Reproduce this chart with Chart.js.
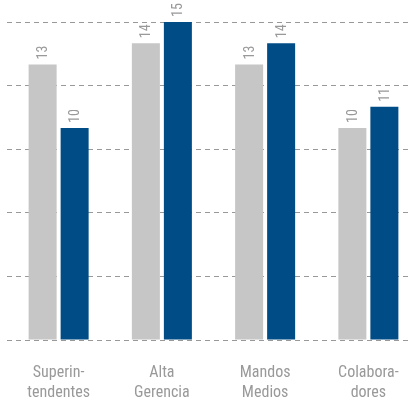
<!DOCTYPE html>
<html>
<head>
<meta charset="utf-8">
<script src="https://cdn.jsdelivr.net/npm/chart.js@4/dist/chart.umd.min.js"></script>
<style>
  html, body { margin: 0; padding: 0; background: #fff; overflow: hidden; }
  #wrap { position: relative; width: 420px; height: 399px; }
</style>
</head>
<body>
<div id="wrap"><canvas id="myChart"></canvas></div>
<script>
var categories = [["Superin-", "tendentes"], ["Alta", "Gerencia"], ["Mandos", "Medios"], ["Colabora-", "dores"]];
var seriesGray = [13, 14, 13, 10];
var seriesBlue = [10, 15, 14, 11];

var fontFamily = "'Liberation Sans Narrow', 'Roboto Condensed', 'DejaVu Sans Condensed', sans-serif";

// rotated value labels above each bar
var valueLabels = {
    id: 'valueLabels',
    afterDatasetsDraw: function(chart) {
        var ctx = chart.ctx;
        ctx.save();
        ctx.font = '14px ' + fontFamily;
        ctx.fillStyle = '#999999';
        ctx.textAlign = 'left';
        ctx.textBaseline = 'middle';
        chart.data.datasets.forEach(function(ds, i) {
            chart.getDatasetMeta(i).data.forEach(function(bar, j) {
                ctx.save();
                ctx.translate(bar.x, bar.y - 5);
                ctx.rotate(-Math.PI / 2);
                ctx.fillText(String(ds.data[j]), 0, 1);
                ctx.restore();
            });
        });
        ctx.restore();
    }
};

var ctx = document.getElementById('myChart').getContext('2d');
var myChart = new Chart(ctx, {
    type: 'bar',
    data: {
        labels: categories,
        datasets: [{
            data: seriesGray,
            backgroundColor: '#c6c6c6',
            barPercentage: 0.875,
            categoryPercentage: 0.62
        }, {
            data: seriesBlue,
            backgroundColor: '#004c86',
            barPercentage: 0.875,
            categoryPercentage: 0.62
        }]
    },
    options: {
        responsive: true,
        maintainAspectRatio: false,
        animation: false,
        layout: { padding: { top: 22, left: 7, right: 0, bottom: 0 } },
        plugins: {
            legend: { display: false },
            tooltip: { enabled: false }
        },
        scales: {
            x: {
                grid: { display: false },
                border: { display: false },
                ticks: {
                    color: '#999999',
                    padding: 15,
                    font: { family: fontFamily, size: 16, lineHeight: 1.25 },
                    maxRotation: 0
                },
                afterFit: function(scale) { scale.height = 59; }
            },
            y: {
                min: 0,
                max: 15,
                ticks: { display: false, stepSize: 3 },
                border: { display: false, dash: [5, 4] },
                grid: {
                    color: '#999999',
                    lineWidth: 1,
                    drawTicks: false
                },
                afterFit: function(scale) { scale.width = 0; }
            }
        }
    },
    plugins: [valueLabels]
});
</script>
</body>
</html>
